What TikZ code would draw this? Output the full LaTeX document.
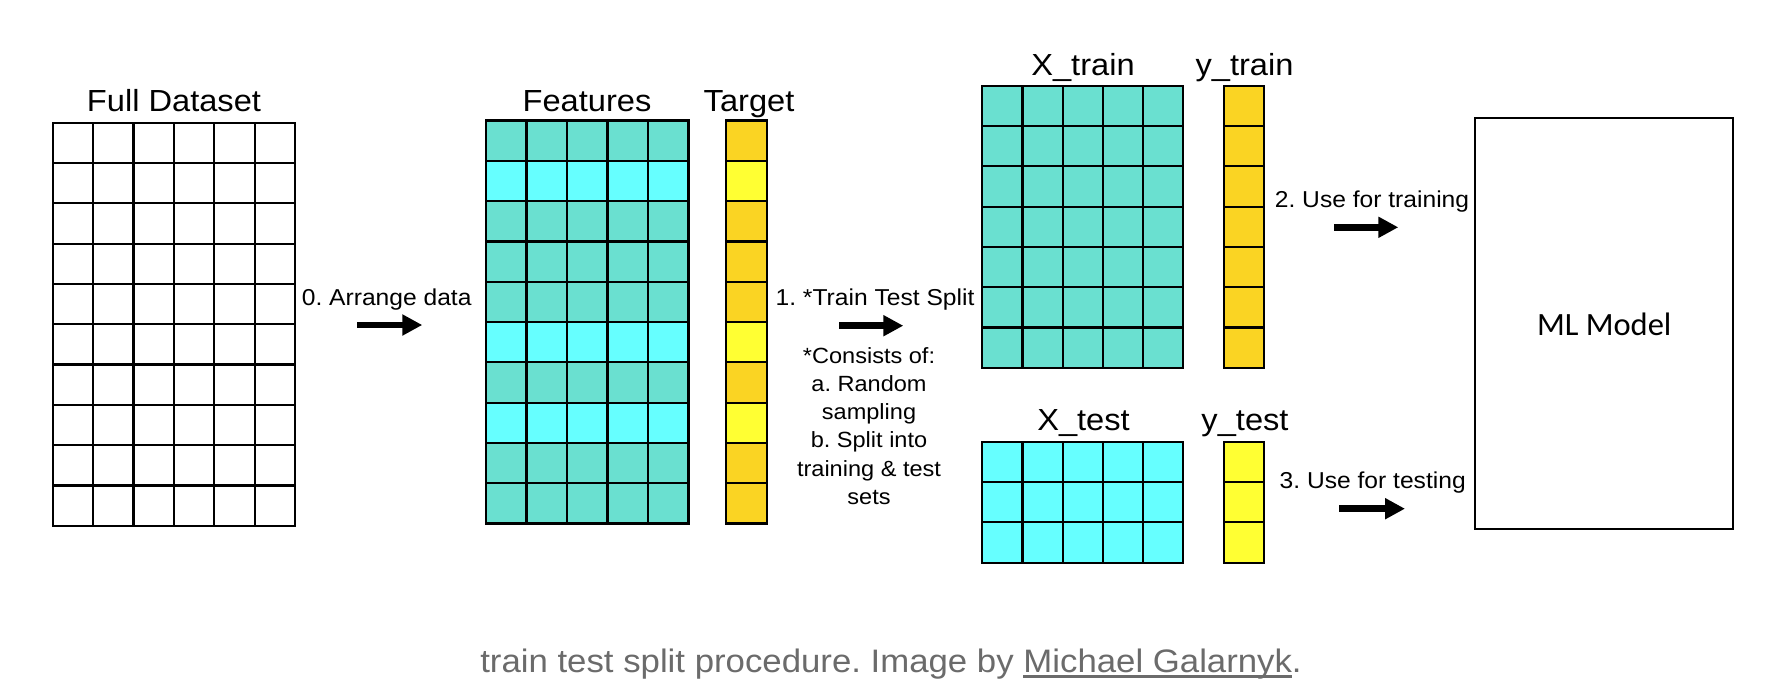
\documentclass[tikz,border=0pt]{standalone}
\usepackage{fontspec}
\setmainfont{Liberation Sans}[FakeStretch=1.07]
\newfontfamily\carlito{Carlito}
\usetikzlibrary{arrows.meta,fit}
\frenchspacing
\definecolor{teal1}{RGB}{106,224,208}
\definecolor{cyan1}{RGB}{102,255,255}
\definecolor{gold1}{RGB}{250,212,35}
\definecolor{yel1}{RGB}{255,255,51}
\definecolor{capgray}{RGB}{107,107,107}
\newcommand{\thickul}[1]{\setbox0\hbox{#1}\rlap{\rule[-5.5pt]{\wd0}{2.4pt}}\box0}
% name, x0, y0, cols, rows, cell width, cell height, row colours
\newcommand{\datagrid}[8]{%
  \foreach \cc [count=\rr from 0] in {#8}
    \fill[\cc] ({#2},{#3+\rr*#7}) rectangle ({#2+#4*#6},{#3+(\rr+1)*#7});
  \foreach \ii in {0,...,#4}
    \draw[gridline] ({#2+\ii*#6},{#3}) -- ({#2+\ii*#6},{#3+#5*#7});
  \foreach \jj in {0,...,#5}
    \draw[gridline] ({#2},{#3+\jj*#7}) -- ({#2+#4*#6},{#3+\jj*#7});
  \coordinate (#1-nw) at ({#2},{#3});
  \coordinate (#1-se) at ({#2+#4*#6},{#3+#5*#7});
  \node[fit=(#1-nw)(#1-se),inner sep=0pt] (#1) {};
}
\begin{document}
\begin{tikzpicture}[x=1pt,y=-1pt,
  gridline/.style={draw=black,line width=2.2pt,line cap=rect},
  title/.style={anchor=base,inner sep=0pt,font=\fontsize{30.5}{36}\selectfont},
  steplabel/.style={anchor=base,inner sep=0pt,font=\fontsize{23}{28}\selectfont},
  bigarrow/.style={line width=6.5pt,-{Triangle[length=20pt,width=20pt]}},
]
\fill[white] (0,0) rectangle (1787,697);
\useasboundingbox (0,0) rectangle (1787,697);

% grids
\datagrid{full}{52.7}{122.7}{6}{10}{40.4}{40.3}{white,white,white,white,white,white,white,white,white,white}
\datagrid{feat}{486}{120.5}{5}{10}{40.5}{40.3}{teal1,cyan1,teal1,teal1,teal1,cyan1,teal1,cyan1,teal1,teal1}
\datagrid{targ}{726}{120.5}{1}{10}{41.3}{40.3}{gold1,yel1,gold1,gold1,gold1,yel1,gold1,yel1,gold1,gold1}
\datagrid{xtrain}{982.3}{85.7}{5}{7}{40.2}{40.3}{teal1,teal1,teal1,teal1,teal1,teal1,teal1}
\datagrid{ytrain}{1224}{85.7}{1}{7}{40}{40.3}{gold1,gold1,gold1,gold1,gold1,gold1,gold1}
\datagrid{xtest}{982.3}{441.7}{5}{3}{40.2}{40.3}{cyan1,cyan1,cyan1}
\datagrid{ytest}{1224}{441.7}{1}{3}{40}{40.3}{yel1,yel1,yel1}

% ML model box
\coordinate (ml-nw) at (1475,118.3);
\coordinate (ml-se) at (1733.3,529.3);
\node[fit=(ml-nw)(ml-se),inner sep=0pt,draw=black,line width=2pt] (ml) {};
\node[anchor=base,inner sep=0pt,font=\carlito\fontsize{32.5}{38}\selectfont] (mltext) at (1604.2,335) {ML Model};

% titles
\node[title] (tfull) at (174,111.5) {Full Dataset};
\node[title] (tfeat) at (587,111) {Features};
\node[title] (ttarg) at (749,111) {Target};
\node[title] (txtrain) at (1083,75) {X\_train};
\node[title] (tytrain) at (1244.5,75) {y\_train};
\node[title] (txtest) at (1083.5,430) {X\_test};
\node[title] (tytest) at (1245,430) {y\_test};

% step labels
\node[steplabel] (l0) at (386.7,305) {0. Arrange data};
\node[steplabel] (l1) at (875,305) {1. *Train Test Split};
\node[steplabel] (l2) at (1372,207.3) {2. Use for training};
\node[steplabel] (l3) at (1372.7,488.3) {3. Use for testing};
\node[anchor=base,inner sep=0pt,align=center,font=\fontsize{22}{28.2}\selectfont] (note) at (869,504.3)
  {*Consists of:\\a. Random\\sampling\\b. Split into\\training \& test\\sets};

% arrows
\coordinate (a0s) at (357.3,325);   \coordinate (a0e) at (422.3,325);
\coordinate (a1s) at (839,325.7);   \coordinate (a1e) at (903.3,325.7);
\coordinate (a2s) at (1334.3,227.3); \coordinate (a2e) at (1398.3,227.3);
\coordinate (a3s) at (1339.3,508.7); \coordinate (a3e) at (1405,508.7);
\draw[bigarrow] (a0s) -- (a0e);
\draw[bigarrow] (a1s) -- (a1e);
\draw[bigarrow] (a2s) -- (a2e);
\draw[bigarrow] (a3s) -- (a3e);

% caption
\node[anchor=base,inner sep=0pt,text=capgray,font=\fontsize{32.5}{38}\selectfont] (cap) at (891,672)
  {train test split procedure. Image by \thickul{Michael Galarnyk}.};
\end{tikzpicture}
\end{document}
